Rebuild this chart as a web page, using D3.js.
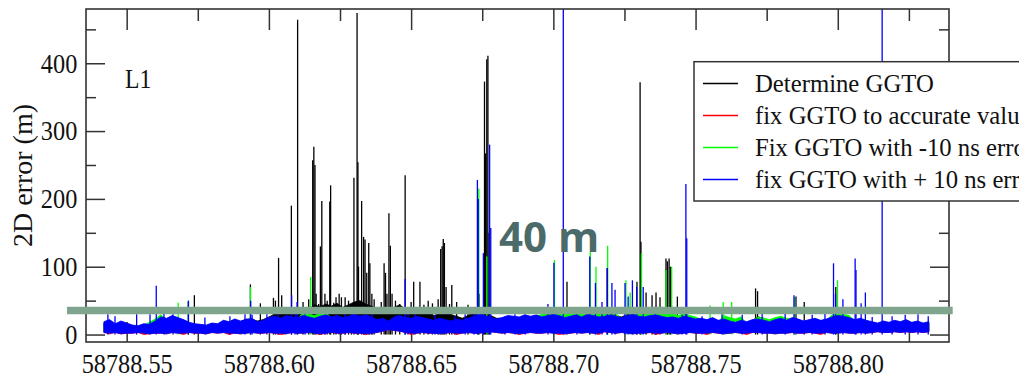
<!DOCTYPE html>
<html><head><meta charset="utf-8">
<script src="https://cdn.jsdelivr.net/npm/d3@7"></script>
<style>body{margin:0;background:#fff} svg{display:block}</style>
</head><body>
<svg id="c" width="1019" height="379"></svg>
<script>
// ---------- data ----------
const xTickValues = [58788.55, 58788.60, 58788.65, 58788.70, 58788.75, 58788.80];
const xTickLabels = ["58788.55","58788.60","58788.65","58788.70","58788.75","58788.80"];
const xMinorTicks = [58788.575, 58788.625, 58788.675, 58788.725, 58788.775, 58788.825];
const yTickValues = [0, 100, 200, 300, 400];
const yMinorTicks = [50, 150, 250, 350, 450];
const seriesNames = ["Determine GGTO", "fix GGTO to accurate value", "Fix GGTO with -10 ns error", "fix GGTO with + 10 ns error"];
const seriesColors = ["#000000", "#ff0000", "#00ff00", "#0000ff"];
const panelLabel = "L1";
const yTitle = "2D error (m)";
const thresholdValue = 35.5;
const thresholdLabel = "40 m";
const thresholdSpan = [58788.529, 58788.8404];

// sampled envelope (min / max per 0.002 d bin)
const sampleStart = 58788.542, sampleStep = 0.002;
const blackHi = [17,20,15,18,16, 13,12,15,14,18, 24,22,27,23,21, 17,15,14,13,16, 15,20,18,22,19, 23,22,20,22,26,
  30,31,34,32,36, 40,37,44,41,45, 42,46,40,44,48, 50,45,42,38,36, 34,40,44,37,35, 40,35,33,28,31,
  36,29,27,24,28, 33,40,36,28,24, 24,27,26,25,28, 26,28,25,27,29, 27,24,26,28,25, 29,27,25,26,30,
  28,26,30,34,32, 30,33,35,29,26, 25,23,26,24,22, 23,21,24,20,22, 19,17,20,18,21, 26,24,18,21,23,
  20,24,22,19,21, 23,20,22,25,27, 26,24,21,23,20, 18,16,19,17,20, 18,21,17,19,16,18];
const blackLo = [4,4,4,3,3,4,4,3,3,3, 4,3,4,4,3,4,4,3,3,4, 4,4,3,4,3,4,4,3,4,4, 3,4,3,4,4,3,4,4,3,4,
  4,3,4,4,3,4,3,4,4,6, 8,7,6,5,4,3,4,4,3,3, 4,4,3,4,4,3,4,4,5,4, 4,4,3,3,4,4,3,4,4,3,
  4,3,3,4,4,4,3,4,5,4, 4,4,3,3,4,3,4,4,3,4, 4,3,3,4,4,3,4,4,3,3, 4,4,3,4,4,4,3,4,3,3,
  4,4,3,4,4,3,4,4,3,4, 4,3,4,4,3,4,5,4,4,5, 5,5,4,5,5,5];
const redHi = [15,18,13,16,14, 11,10,12,12,16, 22,20,24,21,18, 14,13,12,11,13, 13,17,15,19,16, 18,20,15,17,21,
  23,20,24,22,21, 24,22,20,23,25, 22,24,21,23,26, 23,25,22,18,20, 16,22,24,21,20, 23,21,19,17,20,
  18,16,19,17,20, 23,26,24,21,19, 21,24,23,22,25, 23,25,22,24,26, 24,21,23,25,22, 26,24,22,23,25,
  23,21,24,26,23, 22,24,25,23,21, 22,20,23,21,19, 20,18,21,17,19, 16,14,17,15,18, 19,17,15,18,20,
  17,21,19,16,18, 20,17,19,22,24, 23,21,18,20,17, 15,13,16,14,17, 15,18,14,16,13,15];
const redLo = [3,1,3,1,2,2,3,0,1,2, 2,1,3,2,0,3,2,2,1,3, 2,3,0,2,1,2,3,2,2,3, 2,0,1,3,2,2,3,2,0,2,
  3,2,2,3,2,2,0,2,3,5, 7,6,5,3,0,2,3,2,2,1, 2,3,0,2,3,2,2,3,4,3, 2,3,2,0,2,3,2,2,3,2,
  0,1,2,3,2,3,2,0,4,3, 2,3,2,1,2,2,3,0,2,3, 2,1,2,3,2,2,0,3,2,1, 2,3,2,0,3,3,2,2,1,2,
  2,3,2,2,3,2,0,3,2,2, 3,2,2,3,2,3,4,3,3,4, 3,4,3,4,3,4];
const greenHi = [17,20,14,18,15, 12,11,14,18,23, 29,22,26,23,20, 16,14,13,12,15, 14,19,17,21,18, 20,22,17,19,23,
  25,22,26,24,23, 32,30,28,31,33, 24,26,23,25,28, 25,27,24,20,22, 18,24,26,23,22, 25,23,21,19,22,
  20,18,21,19,22, 25,28,26,23,21, 23,26,25,24,27, 25,27,30,34,35, 34,31,33,36,30, 37,33,32,31,35,
  31,23,26,28,31, 31,33,35,32,30, 31,28,31,28,26, 22,20,23,19,28, 25,23,26,17,20, 26,24,22,25,27,
  24,23,21,18,20, 22,19,21,29,31, 30,28,20,22,19, 17,15,18,16,19, 17,20,16,18,15,17];
const greenLo = [4,3,4,3,3,3,4,3,2,3, 3,2,4,3,3,4,3,3,2,4, 3,4,3,3,2,3,4,3,3,4, 3,3,2,4,3,3,4,3,2,3,
  4,3,3,4,3,3,2,3,4,6, 8,7,6,4,3,3,4,3,3,2, 3,4,3,3,4,3,3,4,5,4, 3,4,3,2,3,4,3,3,4,3,
  3,2,3,4,3,4,3,3,5,4, 3,4,3,2,3,3,4,3,3,4, 3,2,3,4,3,3,3,4,3,2, 3,4,3,3,4,4,3,3,2,3,
  3,4,3,3,4,3,3,4,3,3, 4,3,3,4,3,4,5,4,4,5, 4,5,4,5,4,5];
const blueHi = [19,22,16,20,17, 14,13,16,15,20, 26,24,28,25,22, 18,16,15,14,17, 16,21,19,23,20, 22,24,19,21,25,
  27,24,28,26,25, 28,26,24,27,29, 26,28,25,27,30, 27,29,26,22,24, 20,26,28,25,24, 27,25,23,21,24,
  22,20,23,21,24, 27,30,28,25,23, 25,28,27,26,29, 27,29,26,28,30, 28,25,27,29,26, 30,28,26,27,29,
  27,25,28,30,27, 26,28,29,27,25, 26,24,27,25,23, 24,22,25,21,23, 20,18,21,19,22, 23,21,19,22,24,
  21,25,23,20,22, 24,21,23,26,28, 27,25,22,24,21, 19,17,20,18,21, 19,22,18,20,17,19];
const blueLo = [3,2,3,1,2,2,3,2,1,2, 2,1,3,2,2,3,2,2,1,3, 2,3,2,2,1,2,3,2,2,3, 2,2,1,3,2,2,3,2,1,2,
  3,2,2,3,2,2,1,2,3,5, 7,6,5,3,2,2,3,2,2,1, 2,3,2,2,3,2,2,3,4,3, 2,3,2,1,2,3,2,2,3,2,
  2,1,2,3,2,3,2,2,4,3, 2,3,2,1,2,2,3,2,2,3, 2,1,2,3,2,2,2,3,2,1, 2,3,2,2,3,3,2,2,1,2,
  2,3,2,2,3,2,2,3,2,2, 3,2,2,3,2,3,4,3,3,4, 3,4,3,4,3,4];

// isolated outliers [MJD, 2D error m]
const blackSpikes = [[58788.5717,48],[58788.5738,58],[58788.5935,74],[58788.5970,46],[58788.6016,54],[58788.6023,50],
  [58788.6034,113],[58788.6045,58],[58788.6079,190],[58788.6101,464],[58788.6154,257],[58788.6158,277],[58788.6162,250],
  [58788.6166,60],[58788.6181,130],[58788.6186,197],[58788.6197,60],[58788.6214,196],[58788.6217,220],[58788.6236,55],
  [58788.6247,60],[58788.6268,55],[58788.6299,231],[58788.6310,474],[58788.6313,254],[58788.6315,100],[58788.6326,197],
  [58788.6333,144],[58788.6338,140],[58788.6344,91],[58788.6351,135],[58788.6355,105],[58788.6362,60],[58788.6405,105],
  [58788.6410,91],[58788.6415,60],[58788.6422,179],[58788.6427,131],[58788.6433,60],[58788.6479,235],[58788.6509,78],
  [58788.6531,78],[58788.6604,126],[58788.6609,130],[58788.6613,141],[58788.6617,135],[58788.6623,70],[58788.6643,73],
  [58788.6739,60],[58788.6758,373],[58788.6762,267],[58788.6766,406],[58788.6770,411],[58788.6774,150],[58788.7048,78],
  [58788.7189,98],[58788.7294,78],[58788.7305,372],[58788.7308,137],[58788.7326,62],[58788.7347,58],[58788.7361,62],
  [58788.7375,55],[58788.7396,112],[58788.7401,108],[58788.7407,112],[58788.7412,100],[58788.7436,56],[58788.7711,68],
  [58788.7718,64],[58788.7853,56],[58788.7882,48],[58788.7993,70],
  [58788.6120,48],[58788.6140,52],[58788.6175,45],[58788.6205,50],[58788.6228,47],[58788.6255,55],[58788.6280,50],
  [58788.6290,45],[58788.6370,52],[58788.6395,48],[58788.6445,50],[58788.6460,45],[58788.6500,48],[58788.6545,44],
  [58788.6560,50],[58788.6575,46],[58788.6595,52],[58788.6635,45],[58788.6660,48],[58788.6700,44]];
const redSpikes = [];
const greenSpikes = [[58788.5681,47],[58788.5717,50],[58788.5935,70],[58788.6147,85],[58788.6738,215],[58788.6766,115],
  [58788.7004,110],[58788.7130,122],[58788.7150,100],[58788.7191,131],[58788.7255,80],[58788.7270,62],[58788.7310,120],
  [58788.7396,95],[58788.7416,100],[58788.7551,43],[58788.7597,48],[58788.7627,48],[58788.7848,55],[58788.7999,80]];
const blueSpikes = [[58788.5604,72],[58788.5717,50],[58788.5936,50],[58788.6080,58],[58788.6099,48],[58788.6479,82],
  [58788.6721,40],[58788.6733,228],[58788.6736,200],[58788.6754,120],[58788.6776,280],[58788.6780,157],[58788.7002,106],
  [58788.7035,520],[58788.7128,115],[58788.7148,76],[58788.7190,98],[58788.7206,76],[58788.7217,66],[58788.7252,76],
  [58788.7278,80],[58788.7293,70],[58788.7316,70],[58788.7466,222],[58788.7469,142],[58788.7846,58],[58788.7985,105],
  [58788.7992,60],[58788.8018,52],[58788.8061,112],[58788.8064,95],[58788.8082,46],[58788.8097,62],[58788.8156,520],
  [58788.5434,30],[58788.5459,27],[58788.5535,30],[58788.5582,30],[58788.5631,32],[58788.5663,30],[58788.5775,25],
  [58788.5863,27],[58788.5916,30],[58788.5941,29],[58788.5993,30],[58788.6032,31],[58788.6092,31],[58788.6127,30],
  [58788.6197,29],[58788.6268,31],[58788.6363,34],[58788.6489,36],[58788.6514,30],[58788.6584,29],[58788.6654,27],
  [58788.6690,30],[58788.6830,27],[58788.6865,30],[58788.6901,30],[58788.6981,45],[58788.7083,30],[58788.7171,48],
  [58788.7263,56],[58788.7358,41],[58788.7453,29],[58788.7523,27],[58788.7593,30],[58788.7664,29],[58788.7734,34],
  [58788.7815,31],[58788.7910,29],[58788.7955,31],[58788.8121,26],[58788.8191,27],[58788.8237,29],[58788.8282,30],
  [58788.8318,27]];

// ---------- layout ----------
const plot = {left: 86, right: 949, top: 9, bottom: 342};
const svg = d3.select("#c");
const x = d3.scaleLinear().domain([58788.5357, 58788.8391]).range([plot.left, plot.right]);
const y = d3.scaleLinear().domain([-11, 480]).range([plot.bottom, plot.top]);
const serif = "'Liberation Serif','Times New Roman',serif";
const axisColor = "#333";

svg.append("defs").append("clipPath").attr("id", "clip")
  .append("rect").attr("x", plot.left).attr("y", plot.top)
  .attr("width", plot.right - plot.left).attr("height", plot.bottom - plot.top);

// ---------- axes ----------
function styleAxis(g) {
  g.select(".domain").remove();
  g.selectAll(".tick line").attr("stroke", axisColor).attr("stroke-width", 1.5);
  g.attr("font-family", serif).attr("font-size", 27);
  g.selectAll(".tick text").attr("fill", "#111").attr("transform", "scale(0.9,1)");
}
svg.append("g").attr("transform", `translate(0,${plot.bottom})`)
  .call(d3.axisBottom(x).tickValues(xTickValues).tickFormat((d, i) => xTickLabels[i]).tickSize(-20).tickPadding(11.5)).call(styleAxis);
svg.append("g").attr("transform", `translate(0,${plot.bottom})`)
  .call(d3.axisBottom(x).tickValues(xMinorTicks).tickFormat("").tickSize(-11)).call(styleAxis);
svg.append("g").attr("transform", `translate(0,${plot.top})`)
  .call(d3.axisTop(x).tickValues(xTickValues).tickFormat("").tickSize(-21)).call(styleAxis);
svg.append("g").attr("transform", `translate(0,${plot.top})`)
  .call(d3.axisTop(x).tickValues(xMinorTicks).tickFormat("").tickSize(-12)).call(styleAxis);
svg.append("g").attr("transform", `translate(${plot.left},0)`)
  .call(d3.axisLeft(y).tickValues(yTickValues).tickFormat(d3.format("d")).tickSize(-19).tickPadding(9.7)).call(styleAxis)
  .selectAll(".tick text").attr("dy", "0.33em");
svg.append("g").attr("transform", `translate(${plot.left},0)`)
  .call(d3.axisLeft(y).tickValues(yMinorTicks).tickFormat("").tickSize(-10)).call(styleAxis);
svg.append("g").attr("transform", `translate(${plot.right},0)`)
  .call(d3.axisRight(y).tickValues(yTickValues).tickFormat("").tickSize(-19)).call(styleAxis);
svg.append("g").attr("transform", `translate(${plot.right},0)`)
  .call(d3.axisRight(y).tickValues(yMinorTicks).tickFormat("").tickSize(-10)).call(styleAxis);

// ---------- data ----------
const times = blueHi.map((_, i) => sampleStart + i * sampleStep);
const dataG = svg.append("g").attr("clip-path", "url(#clip)");
const series = [
  {hi: blackHi, lo: blackLo, spikes: blackSpikes, color: seriesColors[0]},
  {hi: redHi, lo: redLo, spikes: redSpikes, color: seriesColors[1]},
  {hi: greenHi, lo: greenLo, spikes: greenSpikes, color: seriesColors[2]},
  {hi: blueHi, lo: blueLo, spikes: blueSpikes, color: seriesColors[3]}
];
const area = d3.area().x(d => x(d.t)).y0(d => y(d.lo)).y1(d => y(d.hi));
series.forEach(s => {
  const pts = times.map((t, i) => ({t, lo: s.lo[i], hi: s.hi[i]}));
  dataG.append("path").datum(pts).attr("d", area)
    .attr("fill", s.color).attr("stroke", s.color).attr("stroke-width", 0.8);
  dataG.append("g").selectAll("line").data(s.spikes).join("line")
    .attr("x1", d => x(d[0])).attr("x2", d => x(d[0]))
    .attr("y1", y(0)).attr("y2", d => y(d[1]))
    .attr("stroke", s.color).attr("stroke-width", 1.3);
});

// frame
svg.append("rect").attr("x", plot.left).attr("y", plot.top)
  .attr("width", plot.right - plot.left).attr("height", plot.bottom - plot.top)
  .attr("fill", "none").attr("stroke", axisColor).attr("stroke-width", 1.6);

// y title
svg.append("text").attr("transform", `translate(32,175.5) rotate(-90)`)
  .attr("text-anchor", "middle").attr("font-family", serif).attr("font-size", 28).attr("fill", "#111")
  .text(yTitle);

// panel label
svg.append("g").attr("transform", "translate(125,88) scale(0.86,1)")
  .append("text").attr("font-family", serif).attr("font-size", 27.5).attr("fill", "#111").text(panelLabel);

// legend
const lg = svg.append("g");
lg.append("rect").attr("x", 694).attr("y", 61.7).attr("width", 420).attr("height", 139.3)
  .attr("fill", "#fff").attr("stroke", axisColor).attr("stroke-width", 1.5);
seriesNames.forEach((name, i) => {
  const ly = 83.5 + i * 32;
  lg.append("line").attr("x1", 703).attr("x2", 738).attr("y1", ly).attr("y2", ly)
    .attr("stroke", seriesColors[i]).attr("stroke-width", 1.5);
  lg.append("g").attr("transform", `translate(755,${ly + 8.3}) scale(0.97,1)`)
    .append("text").attr("font-family", serif).attr("font-size", 25.5).attr("fill", "#111").text(name);
});

// threshold annotation
svg.append("line").attr("x1", x(thresholdSpan[0])).attr("x2", x(thresholdSpan[1]))
  .attr("y1", y(thresholdValue)).attr("y2", y(thresholdValue))
  .attr("stroke", "#7fa58f").attr("stroke-width", 7.6);
svg.append("text").attr("x", 499).attr("y", 252.3)
  .attr("font-family", "'Open Sans','Liberation Sans',sans-serif").attr("font-weight", 700).attr("font-size", 42)
  .attr("fill", "#4b6b6b").text(thresholdLabel);
</script>
</body></html>
